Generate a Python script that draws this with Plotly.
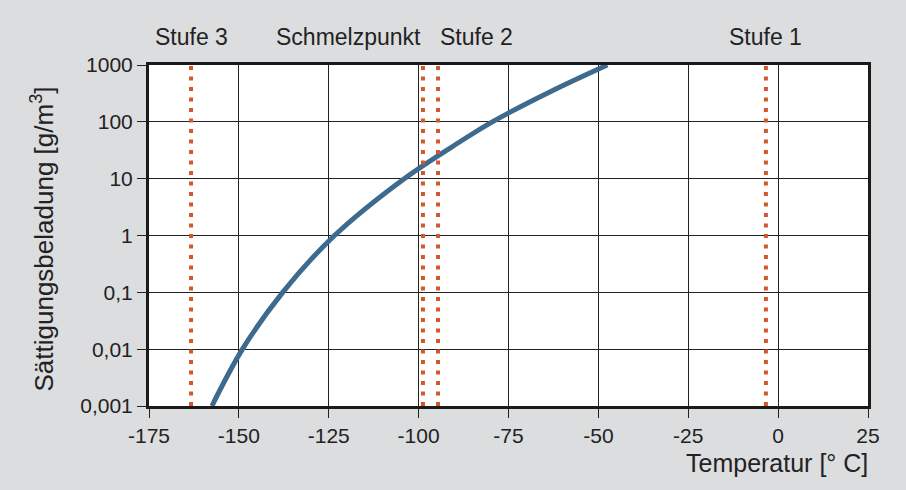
import plotly.graph_objects as go

# Saturation curve (temperature in °C, saturation loading in g/m³)
temp = [-157.5, -149.0, -137.8, -123.4, -104.0, -88.5, -79.5, -62.4, -47.5]
loading = [0.001, 0.01, 0.1, 1.0, 10.0, 44.6, 100.0, 363.0, 1000.0]

# Marker lines
stage_labels = ["Stufe 3", "Stufe 2", "Stufe 1"]
stage_temps = [-163.3, -94.6, -3.4]
stage_anchor = ["center", "left", "center"]
melt_label = "Schmelzpunkt"
melt_temp = -98.8

x_ticks = [-175, -150, -125, -100, -75, -50, -25, 0, 25]
x_ticktext = ["-175", "-150", "-125", "-100", "-75", "-50", "-25", "0", "25"]
y_ticks = [0.001, 0.01, 0.1, 1, 10, 100, 1000]
y_ticktext = ["0,001", "0,01", "0,1", "1", "10", "100", "1000"]

FONT = "Liberation Sans"
TXT = "#222222"
RED = "#d4572a"
BLUE = "#3d6a8f"

fig = go.Figure()
fig.add_trace(go.Scatter(x=temp, y=loading, mode="lines",
                         line=dict(color=BLUE, width=5, shape="spline", smoothing=1.0),
                         hoverinfo="skip", showlegend=False))

shapes = []
for t in stage_temps + [melt_temp]:
    shapes.append(dict(type="line", xref="x", yref="paper", x0=t, x1=t, y0=0, y1=1,
                       line=dict(color=RED, width=4, dash="4px,6.5px"), layer="above"))

annotations = []
for lab, t, anc in zip(stage_labels, stage_temps, stage_anchor):
    annotations.append(dict(text=lab, x=t, xref="x", y=1.082, yref="paper",
                            xanchor=anc, yanchor="middle", showarrow=False,
                            font=dict(family=FONT, size=23, color=TXT)))
annotations.append(dict(text=melt_label, x=melt_temp, xref="x", y=1.082, yref="paper",
                        xanchor="right", yanchor="middle", showarrow=False,
                        font=dict(family=FONT, size=23, color=TXT)))
annotations.append(dict(text="Temperatur [° C]", x=1.003, xref="paper", y=-0.168, yref="paper",
                        xanchor="right", yanchor="middle", showarrow=False,
                        font=dict(family=FONT, size=25, color=TXT)))
annotations.append(dict(text="Sättigungsbeladung [g/m<sup>3</sup>]", x=-0.148, xref="paper", y=0.49, yref="paper",
                        xanchor="center", yanchor="middle", textangle=-90, showarrow=False,
                        font=dict(family=FONT, size=26, color=TXT)))

fig.update_layout(
    width=906, height=490,
    margin=dict(l=149, r=38, t=65, b=84),
    paper_bgcolor="#dcdddf", plot_bgcolor="#ffffff",
    shapes=shapes, annotations=annotations,
    font=dict(family=FONT, size=21, color=TXT),
)
fig.update_xaxes(range=[-175, 25], tickvals=x_ticks, ticktext=x_ticktext,
                 showgrid=True, gridcolor="#222222", gridwidth=1,
                 showline=True, linecolor="#1a1a1a", linewidth=3, mirror=True,
                 ticks="outside", ticklen=9, tickcolor="#222222", tickwidth=1,
                 zeroline=False, tickfont=dict(size=21, color=TXT, family=FONT))
fig.update_yaxes(type="log", range=[-3, 3], tickvals=y_ticks, ticktext=y_ticktext,
                 showgrid=True, gridcolor="#222222", gridwidth=1,
                 showline=True, linecolor="#1a1a1a", linewidth=3, mirror=True,
                 ticks="outside", ticklen=9, tickcolor="#222222", tickwidth=1,
                 zeroline=False, tickfont=dict(size=21, color=TXT, family=FONT))

fig.write_html("out.html", config={"displayModeBar": False},
               post_script="document.body.style.margin='0';")
